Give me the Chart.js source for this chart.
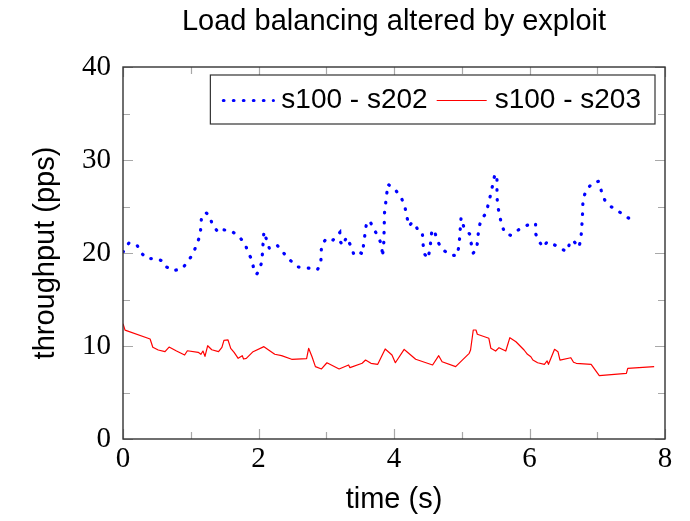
<!DOCTYPE html>
<html>
<head>
<meta charset="utf-8">
<script src="https://cdn.jsdelivr.net/npm/chart.js@4/dist/chart.umd.min.js"></script>
<style>
  html, body { margin: 0; padding: 0; background: #fff; }
  #wrap { width: 690px; height: 521px; }
</style>
</head>
<body>
<div id="wrap"><canvas id="c" width="690" height="521"></canvas></div>
<script>
// ---- data ----
const chartTitle = "Load balancing altered by exploit";
const xTitle = "time (s)";
const yTitle = "throughput (pps)";
const seriesNames = ["s100 - s202", "s100 - s203"];
const xTicks = [0, 2, 4, 6, 8];
const yTicks = [0, 10, 20, 30, 40];

const blueT = [0, 0.09, 0.21, 0.27, 0.35, 0.50, 0.59, 0.62, 0.74, 0.87,
  0.96, 1.04, 1.09, 1.14, 1.16, 1.23, 1.28, 1.32, 1.41, 1.47,
  1.59, 1.71, 1.80, 1.85, 1.90, 1.93, 1.97, 2.01, 2.05, 2.06,
  2.07, 2.08, 2.16, 2.22, 2.28, 2.37, 2.47, 2.58, 2.72, 2.87,
  2.92, 2.93, 3.01, 3.10, 3.20, 3.21, 3.24, 3.30, 3.36, 3.41,
  3.48, 3.54, 3.55, 3.59, 3.64, 3.70, 3.78, 3.82, 3.83, 3.85,
  3.86, 3.91, 4.02, 4.11, 4.16, 4.19, 4.22, 4.27, 4.32, 4.37,
  4.42, 4.43, 4.45, 4.50, 4.53, 4.56, 4.60, 4.64, 4.71, 4.83,
  4.93, 4.96, 4.99, 5.03, 5.12, 5.14, 5.17, 5.22, 5.25, 5.28,
  5.36, 5.43, 5.49, 5.52, 5.52, 5.53, 5.56, 5.59, 5.64, 5.72,
  5.84, 5.97, 6.09, 6.09, 6.12, 6.20, 6.26, 6.39, 6.51, 6.56,
  6.60, 6.65, 6.73, 6.76, 6.78, 6.79, 6.84, 6.94, 7.02, 7.06,
  7.11, 7.20, 7.33, 7.45, 7.57];
const blueV = [20.1, 21.1, 20.8, 20.0, 19.4, 19.4, 19.1, 18.6, 18.1, 18.3,
  19.1, 20.0, 21.0, 21.9, 24.0, 24.3, 24.0, 23.0, 22.2, 22.5,
  22.4, 21.8, 21.0, 20.0, 19.3, 18.3, 17.7, 18.1, 19.1, 20.2,
  21.3, 22.3, 20.5, 20.8, 20.8, 20.0, 19.2, 18.5, 18.4, 18.2,
  18.9, 20.9, 21.6, 21.4, 22.2, 21.2, 20.8, 21.7, 20.8, 19.8,
  20.1, 19.9, 20.9, 23.0, 23.5, 22.6, 21.6, 20.7, 19.6, 21.2,
  24.3, 27.4, 26.8, 25.9, 25.0, 23.9, 22.9, 23.3, 23.0, 22.1,
  22.0, 20.9, 19.9, 19.4, 20.4, 22.5, 22.3, 21.3, 20.4, 19.8,
  19.7, 20.8, 23.8, 22.8, 22.0, 21.0, 20.0, 20.4, 22.5, 23.5,
  24.3, 26.4, 28.5, 28.3, 26.1, 25.1, 24.0, 23.0, 22.1, 21.9,
  22.5, 23.0, 23.2, 22.1, 21.5, 20.6, 21.2, 20.8, 20.3, 20.2,
  21.3, 21.3, 20.6, 21.6, 23.7, 25.8, 26.8, 27.6, 27.7, 26.7,
  25.7, 25.0, 24.4, 23.8, 23.4];

const redT = [0, 0.03, 0.40, 0.44, 0.52, 0.62, 0.68, 0.79, 0.91, 0.95,
  1.11, 1.15, 1.18, 1.21, 1.25, 1.31, 1.41, 1.46, 1.49, 1.55,
  1.59, 1.64, 1.70, 1.76, 1.78, 1.82, 1.92, 2.08, 2.24, 2.34,
  2.49, 2.71, 2.74, 2.79, 2.84, 2.93, 3.01, 3.19, 3.33, 3.35,
  3.53, 3.58, 3.66, 3.76, 3.87, 3.97, 4.02, 4.15, 4.19, 4.32,
  4.57, 4.66, 4.71, 4.91, 5.11, 5.13, 5.17, 5.21, 5.23, 5.40,
  5.43, 5.50, 5.55, 5.65, 5.71, 5.80, 5.92, 5.97, 6.02, 6.05,
  6.12, 6.22, 6.26, 6.28, 6.37, 6.42, 6.45, 6.61, 6.65, 6.69,
  6.91, 7.03, 7.43, 7.45, 7.84];
const redV = [12.4, 11.7, 10.75, 9.86, 9.57, 9.39, 9.89, 9.46, 9.03, 9.49,
  9.32, 9.11, 9.46, 8.89, 10.03, 9.6, 9.39, 9.86, 10.61, 10.65,
  9.75, 9.32, 8.67, 8.96, 8.6, 8.67, 9.39, 9.93, 9.11, 8.96,
  8.57, 8.64, 9.75, 8.85, 7.78, 7.53, 8.2, 7.53, 7.96, 7.67,
  8.14, 8.49, 8.14, 8.03, 9.68, 9.03, 8.2, 9.64, 9.39, 8.57,
  7.96, 8.96, 8.31, 7.78, 9.21, 9.57, 11.72, 11.72, 11.26, 10.83,
  9.75, 9.46, 9.82, 9.46, 10.9, 10.46, 9.57, 9.11, 8.85, 8.49,
  8.2, 8.03, 8.39, 8.03, 9.64, 9.39, 8.49, 8.74, 8.25, 8.14,
  8.03, 6.81, 7.06, 7.6, 7.78];

// ---- styles ----
const SANS = "'Liberation Sans', Arial, sans-serif";
const SERIF = "'Liberation Serif', 'Times New Roman', serif";

const toPts = (ts, vs) => ts.map((t, i) => ({ x: t, y: vs[i] }));

const frameAndTicks = {
  id: 'frameAndTicks',
  afterDatasetsDraw(chart) {
    const { ctx, chartArea: a, scales: { x, y } } = chart;
    ctx.save();
    ctx.strokeStyle = '#a8a8a8';
    ctx.lineWidth = 1.2;
    const major = 10, minor = 7;
    for (let v = 0; v <= 40; v += 5) {
      const len = (v % 10 === 0) ? major : minor;
      const py = Math.round(y.getPixelForValue(v)) + 0.5;
      ctx.beginPath();
      ctx.moveTo(a.left, py); ctx.lineTo(a.left + len, py);
      ctx.moveTo(a.right, py); ctx.lineTo(a.right - len, py);
      ctx.stroke();
    }
    for (let v = 0; v <= 8; v += 1) {
      const len = (v % 2 === 0) ? major : minor;
      const px = Math.round(x.getPixelForValue(v)) + 0.5;
      ctx.beginPath();
      ctx.moveTo(px, a.bottom); ctx.lineTo(px, a.bottom - len);
      ctx.moveTo(px, a.top); ctx.lineTo(px, a.top + len);
      ctx.stroke();
    }
    ctx.strokeStyle = '#333';
    ctx.lineWidth = 1.4;
    ctx.strokeRect(a.left, a.top, a.right - a.left, a.bottom - a.top);
    ctx.restore();
  }
};

const boxLegend = {
  id: 'boxLegend',
  afterDraw(chart) {
    const { ctx, chartArea: a } = chart;
    const ds = chart.data.datasets;
    ctx.save();
    ctx.font = "28px " + SANS;
    const padL = 11, padR = 14, sample = 52, gapS = 8, gapItem = 7;
    let total = padL + padR;
    ds.forEach((d, i) => {
      total += sample + gapS + ctx.measureText(d.label).width;
      if (i < ds.length - 1) total += gapItem;
    });
    const h = 49;
    const bx = a.right - 10 - total, by = a.top + 8;
    ctx.fillStyle = '#fff';
    ctx.fillRect(bx, by, total, h);
    ctx.strokeStyle = '#333';
    ctx.lineWidth = 1.2;
    ctx.strokeRect(bx, by, total, h);
    const cy = by + h / 2;
    let cx = bx + padL;
    ds.forEach((d, i) => {
      ctx.save();
      ctx.strokeStyle = d.borderColor;
      ctx.lineWidth = d.borderWidth;
      ctx.setLineDash(d.borderDash || []);
      ctx.lineCap = d.borderCapStyle || 'butt';
      ctx.beginPath();
      ctx.moveTo(cx + 2, Math.round(cy) + 0.5);
      ctx.lineTo(cx + sample, Math.round(cy) + 0.5);
      ctx.stroke();
      ctx.restore();
      cx += sample + gapS;
      ctx.fillStyle = '#000';
      ctx.textBaseline = 'middle';
      ctx.textAlign = 'left';
      ctx.fillText(d.label, cx, cy + 1);
      cx += ctx.measureText(d.label).width + gapItem;
    });
    ctx.restore();
  }
};

new Chart(document.getElementById('c'), {
  type: 'line',
  data: {
    datasets: [
      {
        label: seriesNames[0],
        data: toPts(blueT, blueV),
        borderColor: '#0000ff',
        borderWidth: 3.2,
        borderDash: [0.6, 9.4],
        borderCapStyle: 'round',
        pointRadius: 0,
        tension: 0,
        fill: false
      },
      {
        label: seriesNames[1],
        data: toPts(redT, redV),
        borderColor: '#ff0000',
        borderWidth: 1.2,
        borderJoinStyle: 'round',
        pointRadius: 0,
        tension: 0,
        fill: false
      }
    ]
  },
  options: {
    responsive: false,
    animation: false,
    devicePixelRatio: 1,
    layout: { padding: { left: 0, top: 0, right: 25, bottom: 0 } },
    plugins: {
      legend: { display: false },
      tooltip: { enabled: false },
      title: {
        display: true,
        text: chartTitle,
        fullSize: false,
        color: '#000',
        font: { family: SANS, size: 29, weight: 'normal' },
        padding: { top: 5, bottom: 27.2 }
      }
    },
    scales: {
      x: {
        type: 'linear',
        min: 0, max: 8,
        afterFit(s) { s.height = 82; },
        afterBuildTicks(s) { s.ticks = xTicks.map(v => ({ value: v })); },
        grid: { display: false, drawTicks: false },
        border: { display: false },
        ticks: {
          color: '#000',
          padding: 3,
          maxRotation: 0,
          font: { family: SERIF, size: 29 }
        },
        title: {
          display: true,
          text: xTitle,
          color: '#000',
          font: { family: SANS, size: 29 },
          padding: { top: 0, bottom: 4 }
        }
      },
      y: {
        type: 'linear',
        min: 0, max: 40,
        afterFit(s) { s.width = 123; },
        afterBuildTicks(s) { s.ticks = yTicks.map(v => ({ value: v })); },
        grid: { display: false, drawTicks: false },
        border: { display: false },
        ticks: {
          color: '#000',
          padding: 12,
          font: { family: SERIF, size: 29 }
        },
        title: {
          display: true,
          text: yTitle,
          color: '#000',
          font: { family: SANS, size: 29 },
          padding: { top: 29, bottom: 0 }
        }
      }
    }
  },
  plugins: [frameAndTicks, boxLegend]
});
</script>
</body>
</html>
